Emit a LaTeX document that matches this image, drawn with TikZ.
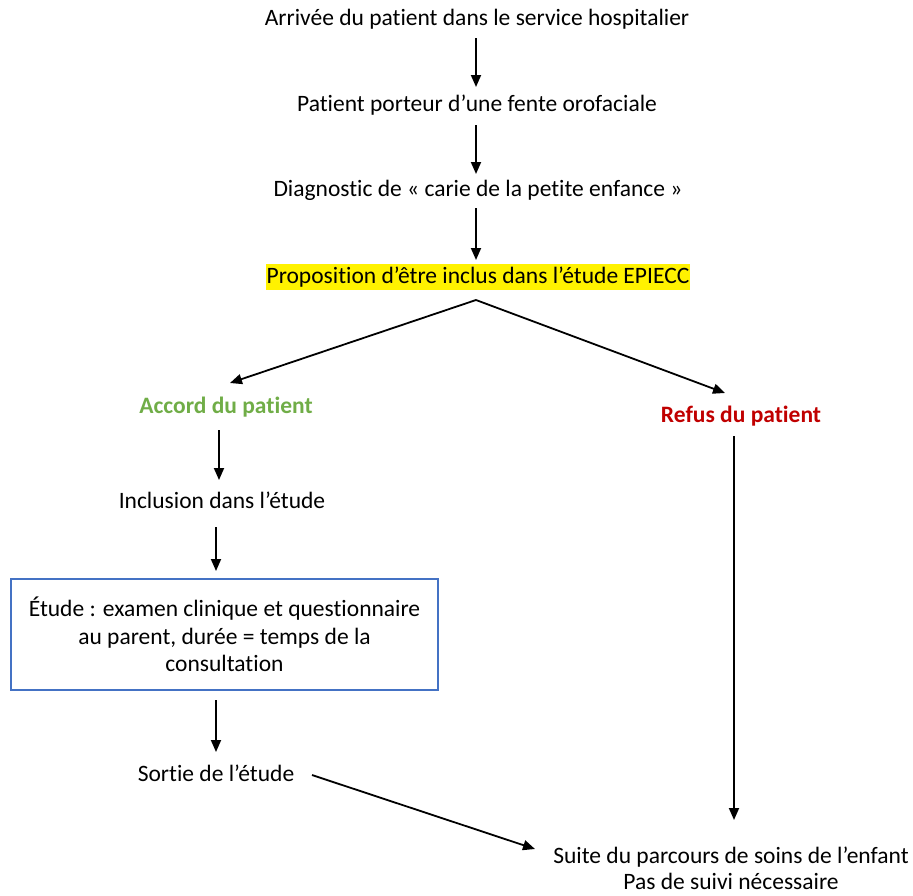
\documentclass[tikz,border=0pt]{standalone}
\usepackage{fontspec}
\setmainfont{Carlito}[Ligatures={NoCommon}]
\usetikzlibrary{arrows.meta}
\definecolor{accgreen}{HTML}{70AD47}
\definecolor{refred}{HTML}{C00000}
\definecolor{boxblue}{HTML}{4472C4}
\begin{document}
\begin{tikzpicture}[x=1pt,y=-1pt,
  txt/.style={inner sep=0pt,font=\fontsize{23.5}{27.5}\selectfont},
  arr/.style={line width=1.8pt,-{Triangle[length=12pt,width=10pt]}},
  ]
\useasboundingbox (0,0) rectangle (913,895);
\node[txt] (n1) at (477,19) {Arrivée du patient dans le service hospitalier};
\node[txt] (n2) at (477,105) {Patient porteur d’une fente orofaciale};
\node[txt] (n3) at (478,190) {Diagnostic de « carie de la petite enfance »};
\node[txt,fill=yellow,inner xsep=1pt,inner ysep=3pt] (n4) at (478,277) {Proposition d’être inclus dans l’étude EPIECC};
\node[txt,text=accgreen,font=\fontsize{23.5}{27.5}\selectfont\bfseries] (acc) at (226,407) {Accord du patient};
\node[txt,text=refred,font=\fontsize{23.5}{27.5}\selectfont\bfseries] (ref) at (741,416) {Refus du patient};
\node[txt] (inc) at (222,500) {Inclusion dans l’étude};
\node[txt,draw=boxblue,line width=1.5pt,minimum width=427pt,minimum height=111pt,align=center] (etude) at (224.5,634.5)
  {Étude : examen clinique et questionnaire\\au parent, durée = temps de la\\consultation};
\node[txt,align=center,font=\fontsize{23.5}{26}\selectfont] (suite) at (731,868) {Suite du parcours de soins de l’enfant\\Pas de suivi nécessaire};
\node[txt] (sort) at (216,773) {Sortie de l’étude};

\coordinate (a1s) at (476,38);  \coordinate (a1e) at (476,87);
\coordinate (a2s) at (476,125); \coordinate (a2e) at (476,174);
\coordinate (a3s) at (476,208); \coordinate (a3e) at (476,260);
\coordinate (split) at (476,300);
\coordinate (le) at (230,383);
\coordinate (re) at (725,393);
\coordinate (a4s) at (219,430); \coordinate (a4e) at (219,480);
\coordinate (a5s) at (216,527); \coordinate (a5e) at (216,571);
\coordinate (a6s) at (216,700); \coordinate (a6e) at (216,752);
\coordinate (a7s) at (312,775); \coordinate (a7e) at (535,849);
\coordinate (a8s) at (734,436); \coordinate (a8e) at (734,820);

\draw[arr] (a1s) -- (a1e);
\draw[arr] (a2s) -- (a2e);
\draw[arr] (a3s) -- (a3e);
\draw[arr] (split) -- (le);
\draw[arr] (split) -- (re);
\draw[arr] (a4s) -- (a4e);
\draw[arr] (a5s) -- (a5e);
\draw[arr] (a6s) -- (a6e);
\draw[arr] (a7s) -- (a7e);
\draw[arr] (a8s) -- (a8e);
\end{tikzpicture}
\end{document}
